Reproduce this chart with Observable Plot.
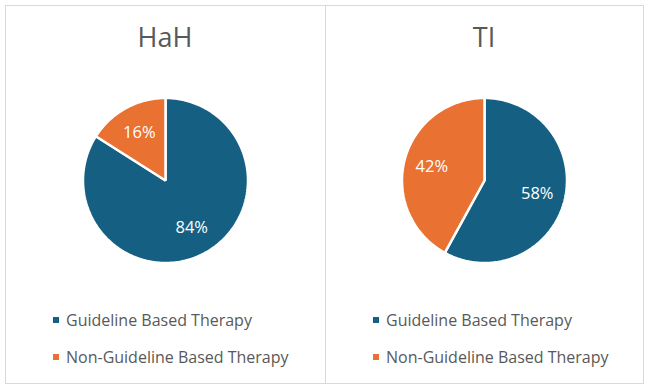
<!DOCTYPE html>
<html>
<head>
<meta charset="utf-8">
<script src="https://cdn.jsdelivr.net/npm/d3@7"></script>
<script src="https://cdn.jsdelivr.net/npm/@observablehq/plot@0.6"></script>
<style>
  html, body { margin: 0; padding: 0; background: #fff; }
  body { width: 650px; height: 389px; position: relative; overflow: hidden; font-family: "Open Sans", Roboto, sans-serif; }
  #frame { position: absolute; left: 5px; top: 5px; width: 637px; height: 377px; border: 1px solid #d9d9d9; }
  #divider { position: absolute; left: 325px; top: 5px; width: 1px; height: 378px; background: #d9d9d9; }
  .title { position: absolute; width: 200px; text-align: center; font-size: 27px; line-height: 27px; color: #595959; }
  .pie { position: absolute; }
  .legend { position: absolute; font-size: 16px; color: #595959; }
  .row { position: absolute; left: 0; height: 20px; display: flex; align-items: center; white-space: nowrap; }
  .sw { width: 6px; height: 6px; margin-right: 7px; }
</style>
</head>
<body>
<div id="frame"></div>
<div id="divider"></div>
<script>
// Data
const panels = ["HaH", "TI"];
const categories = ["Guideline Based Therapy", "Non-Guideline Based Therapy"];
const colors = ["#156082", "#E97132"];
const hahValues = [84, 16];
const tiValues = [58, 42];
const panelValues = [hahValues, tiValues];

// Layout
const panelCenters = [165, 484];
const panelLefts = [5, 325];
const pieCenterY = 180;
const pieRadius = 82.5;
const svgSize = 200;
const half = (svgSize / 2) / pieRadius;

function slices(values) {
  const total = d3.sum(values);
  const pts = [];
  const labels = [];
  let acc = 0;
  values.forEach((v, i) => {
    const a0 = acc / total * 2 * Math.PI;
    acc += v;
    const a1 = acc / total * 2 * Math.PI;
    pts.push({cat: categories[i], x: 0, y: 0});
    const n = Math.max(2, Math.ceil((a1 - a0) / (Math.PI / 180)));
    for (let k = 0; k <= n; k++) {
      const t = a0 + (a1 - a0) * k / n;
      pts.push({cat: categories[i], x: Math.sin(t), y: Math.cos(t)});
    }
    const m = (a0 + a1) / 2;
    labels.push({x: 0.66 * Math.sin(m), y: 0.66 * Math.cos(m), text: Math.round(v / total * 100) + "%"});
  });
  return {pts, labels};
}

panels.forEach((name, p) => {
  const cx = panelCenters[p];
  const t = document.createElement("div");
  t.className = "title";
  t.textContent = name;
  t.style.left = (cx - 100) + "px";
  t.style.top = "23px";
  document.body.appendChild(t);

  const {pts, labels} = slices(panelValues[p]);
  const chart = Plot.plot({
    width: svgSize,
    height: svgSize,
    margin: 0,
    x: {domain: [-half, half], axis: null},
    y: {domain: [-half, half], axis: null},
    color: {domain: categories, range: colors},
    marks: [
      Plot.line(pts, {x: "x", y: "y", z: "cat", fill: "cat", stroke: "white", strokeWidth: 2.5, curve: "linear-closed", strokeLinejoin: "miter"}),
      Plot.text(labels, {x: "x", y: "y", text: "text", fill: "white", fontSize: 16.5, fontFamily: "Open Sans, sans-serif"})
    ]
  });
  chart.classList.add("pie");
  chart.style.left = (cx - svgSize / 2) + "px";
  chart.style.top = (pieCenterY - svgSize / 2) + "px";
  chart.style.background = "transparent";
  document.body.appendChild(chart);

  const lg = document.createElement("div");
  lg.className = "legend";
  lg.style.left = (panelLefts[p] + 48) + "px";
  lg.style.top = "0px";
  const rowY = [319.5, 357];
  categories.forEach((c, i) => {
    const r = document.createElement("div");
    r.className = "row";
    r.style.top = (rowY[i] - 10) + "px";
    const s = document.createElement("span");
    s.className = "sw";
    s.style.background = colors[i];
    r.appendChild(s);
    r.appendChild(document.createTextNode(c));
    lg.appendChild(r);
  });
  document.body.appendChild(lg);
});
</script>
</body>
</html>
